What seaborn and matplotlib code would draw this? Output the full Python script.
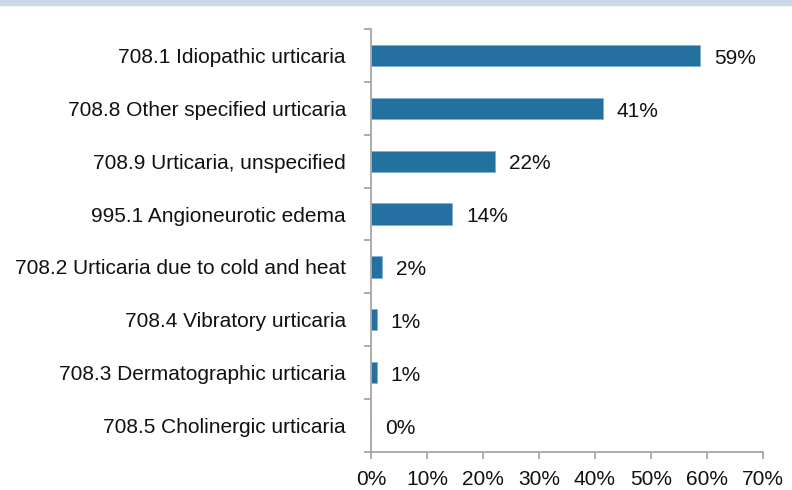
import matplotlib
matplotlib.use("Agg")
import matplotlib.pyplot as plt
import seaborn as sns
import pandas as pd
import numpy as np
from matplotlib.ticker import FixedLocator, FuncFormatter

categories = [
    "708.1 Idiopathic urticaria",
    "708.8 Other specified urticaria",
    "708.9 Urticaria, unspecified",
    "995.1 Angioneurotic edema",
    "708.2 Urticaria due to cold and heat",
    "708.4 Vibratory urticaria",
    "708.3 Dermatographic urticaria",
    "708.5 Cholinergic urticaria",
]
values = [58.8, 41.4, 22.1, 14.5, 1.9, 1.0, 1.0, 0.0]
labels = ["59%", "41%", "22%", "14%", "2%", "1%", "1%", "0%"]
xticks = [0, 10, 20, 30, 40, 50, 60, 70]

df = pd.DataFrame({"category": categories, "value": values})

sns.set_theme(style="white")
plt.rcParams["font.family"] = ["Liberation Sans", "DejaVu Sans"]
FS = 15

fig = plt.figure(figsize=(7.92, 4.90), dpi=100)
ax = fig.add_axes([0.4684, 0.0776, 0.4950, 0.8632])

sns.barplot(data=df, x="value", y="category", orient="h", color="#2470a1",
            width=0.4, edgecolor="#7fb0d4", linewidth=0.6, saturation=1, ax=ax)

ax.set_xlim(0, 70)
ax.set_ylim(len(categories) - 0.5, -0.5)
ax.set_xlabel("")
ax.set_ylabel("")

ax.xaxis.set_major_locator(FixedLocator(xticks))
ax.xaxis.set_major_formatter(FuncFormatter(lambda v, p: f"{int(round(v))}%"))

for i, (v, lab) in enumerate(zip(values, labels)):
    ax.annotate(lab, xy=(v, i), xytext=(10, -2), textcoords="offset points",
                ha="left", va="center", fontsize=FS, color="#111111")

for s in ["top", "right"]:
    ax.spines[s].set_visible(False)
for s in ["left", "bottom"]:
    ax.spines[s].set_color("#a6a6a6")
    ax.spines[s].set_linewidth(1.3)

ax.tick_params(axis="x", which="major", direction="out", length=5, width=1.3,
               color="#a6a6a6", labelsize=FS, labelcolor="#111111", pad=8, bottom=True)
ax.tick_params(axis="y", which="major", length=0, labelsize=FS, labelcolor="#111111", pad=18)
ax.yaxis.set_minor_locator(FixedLocator(np.arange(-0.5, len(categories), 1.0)))
ax.tick_params(axis="y", which="minor", direction="out", length=5, width=1.3,
               color="#a6a6a6", left=True)

# light blue band at top
fig.patches.append(matplotlib.patches.Rectangle((0, 1 - 5 / 490), 1, 5 / 490,
                   transform=fig.transFigure, color="#c9d9ea", zorder=0))

fig.savefig("out.png", dpi=100)
